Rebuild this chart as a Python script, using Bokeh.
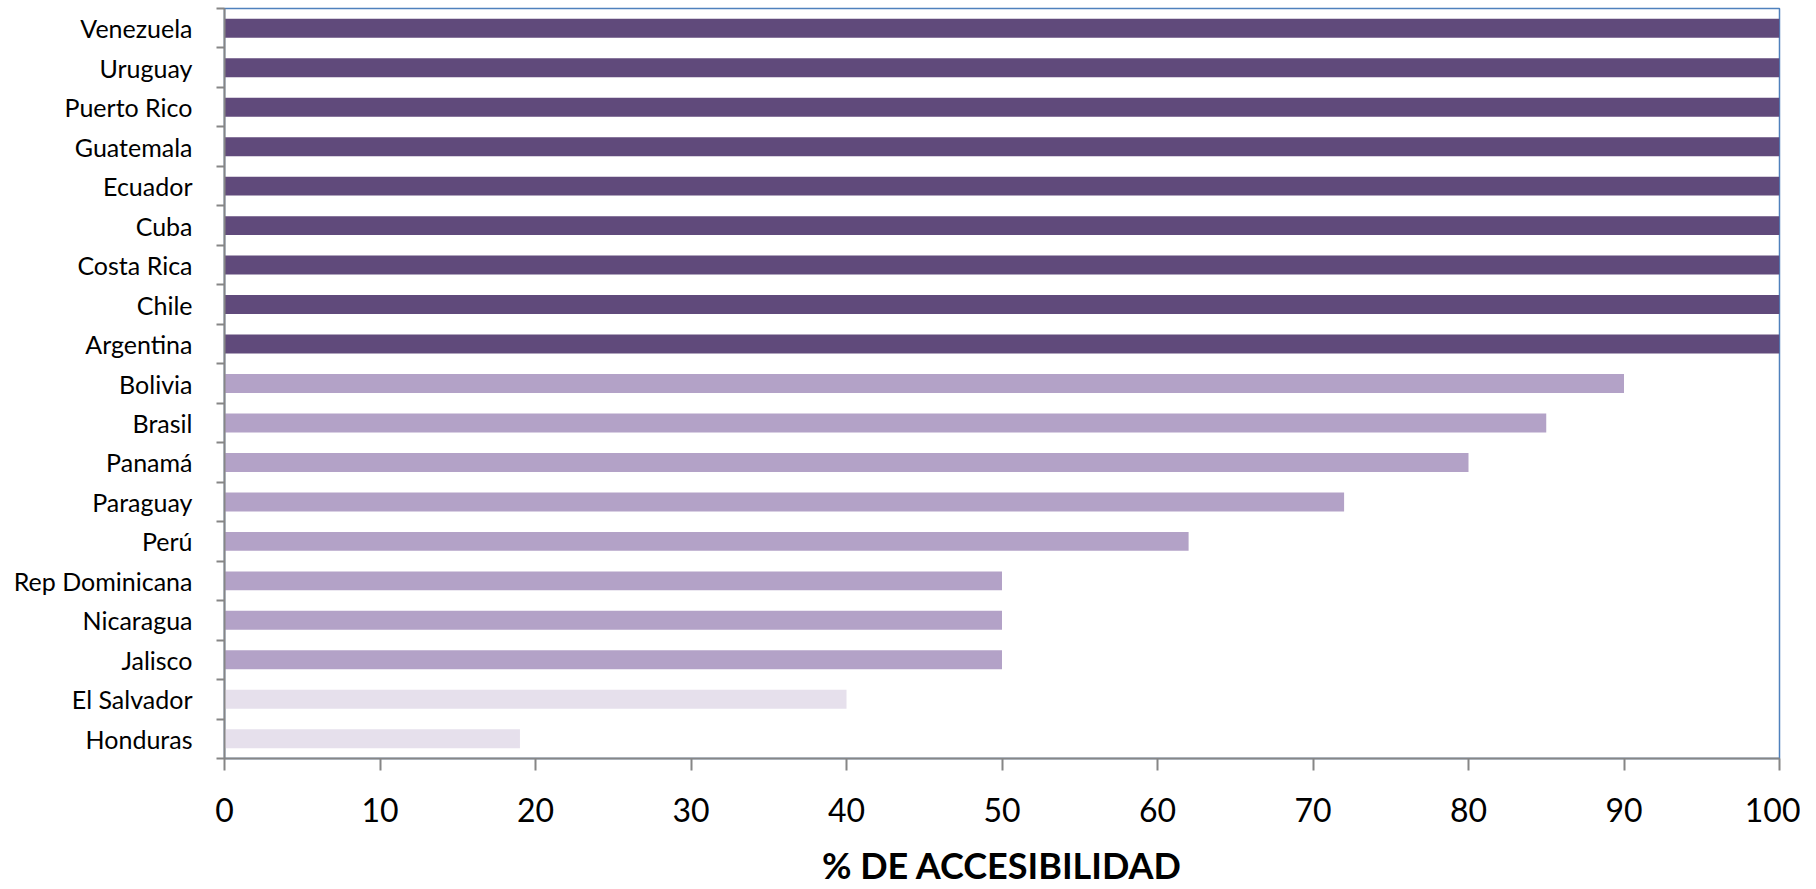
from bokeh.plotting import figure
from bokeh.models import FixedTicker, ColumnDataSource, Range1d
from bokeh.embed import file_html
from bokeh.resources import INLINE

# Data (bottom to top)
countries = ["Honduras", "El Salvador", "Jalisco", "Nicaragua", "Rep Dominicana",
             "Perú", "Paraguay", "Panamá", "Brasil", "Bolivia",
             "Argentina", "Chile", "Costa Rica", "Cuba", "Ecuador",
             "Guatemala", "Puerto Rico", "Uruguay", "Venezuela"]
values = [19, 40, 50, 50, 50, 62, 72, 80, 85, 90,
          100, 100, 100, 100, 100, 100, 100, 100, 100]
x_ticks = [0, 10, 20, 30, 40, 50, 60, 70, 80, 90, 100]
x_title = "% DE ACCESIBILIDAD"

DARK, MID, LIGHT = "#604A7B", "#B3A2C7", "#E6E0EC"

def color_for(v):
    if v >= 100:
        return DARK
    if v >= 50:
        return MID
    return LIGHT

ypos = list(range(len(countries)))
src = ColumnDataSource(dict(y=ypos, v=values, c=[color_for(v) for v in values]))

p = figure(width=1800, height=889, output_backend="svg", toolbar_location=None,
           x_range=Range1d(0, 100), y_range=Range1d(-0.5, len(countries) - 0.5),
           min_border_left=224, min_border_right=21, min_border_top=8,
           min_border_bottom=110)

p.hbar(y="y", right="v", left=0, height=0.48, fill_color="c", line_color=None, source=src)

p.grid.visible = False
p.background_fill_color = "white"
p.border_fill_color = "white"
p.outline_line_color = "#4F81BD"
p.outline_line_width = 1.5

font = "Lato"

# y axis: labels at centers, ticks at boundaries (as minor ticks)
ya = p.yaxis[0]
ya.ticker = FixedTicker(ticks=ypos, minor_ticks=[i - 0.5 for i in range(len(countries) + 1)])
ya.major_label_overrides = {i: n for i, n in enumerate(countries)}
ya.major_tick_out = 0
ya.major_tick_in = 0
ya.minor_tick_out = 8
ya.minor_tick_in = 0
ya.minor_tick_line_color = "#868686"
ya.minor_tick_line_width = 2
ya.axis_line_color = "#868686"
ya.axis_line_width = 2
ya.major_label_standoff = 24
ya.major_label_text_font = font
ya.major_label_text_font_size = "25px"
ya.major_label_text_color = "black"

xa = p.xaxis[0]
xa.ticker = FixedTicker(ticks=x_ticks, minor_ticks=[])
xa.major_tick_out = 12
xa.major_tick_in = 0
xa.major_tick_line_color = "#868686"
xa.major_tick_line_width = 2
xa.axis_line_color = "#868686"
xa.axis_line_width = 2
xa.major_label_standoff = 27
xa.major_label_text_font = font
xa.major_label_text_font_size = "32px"
xa.major_label_text_color = "black"
xa.axis_label = x_title
xa.axis_label_text_font = font
xa.axis_label_text_font_style = "bold"
xa.axis_label_text_font_size = "36px"
xa.axis_label_text_color = "black"
xa.axis_label_standoff = 18

open("out.html", "w").write(file_html(p, INLINE))
